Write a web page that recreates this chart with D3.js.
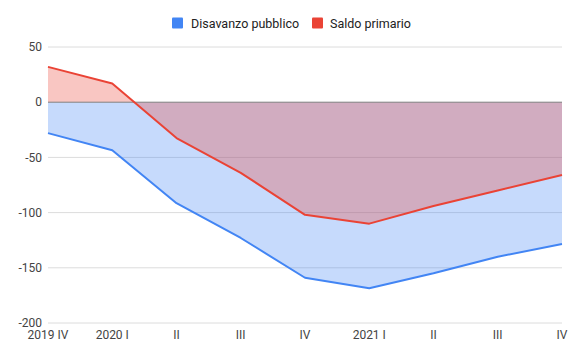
<!DOCTYPE html>
<html><head><meta charset="utf-8">
<script src="https://cdn.jsdelivr.net/npm/d3@7"></script>
<style>body{margin:0;background:#fff;}svg{display:block;font-family:Roboto,Arial,sans-serif;}</style>
</head><body>
<script>
const categories = ["2019 IV","2020 I","II","III","IV","2021 I","II","III","IV"];
const disavanzo = [-28,-43.5,-91.5,-123,-159,-168.5,-155,-140,-128.5];
const saldo = [32,17,-32.5,-64,-102,-110,-94,-80,-66];
const seriesNames = ["Disavanzo pubblico","Saldo primario"];
const colors = ["#4285f4","#ea4335"];
const yTicks = [50,0,-50,-100,-150,-200];

const W=580,H=359;
const svg=d3.select("body").append("svg").attr("width",W).attr("height",H);
const x=d3.scalePoint().domain(d3.range(categories.length)).range([48,562]);
const y=d3.scaleLinear().domain([-200,50]).range([323,47]);

svg.append("g").selectAll("line").data(yTicks.filter(d=>d!==0)).join("line")
 .attr("x1",48).attr("x2",562).attr("y1",d=>y(d)).attr("y2",d=>y(d))
 .attr("stroke","#dcdcdc").attr("stroke-width",1);

const data=[disavanzo,saldo];
data.forEach((s,i)=>{
  svg.append("path").datum(s)
   .attr("d",d3.area().x((d,j)=>x(j)).y0(y(0)).y1(d=>y(d)))
   .attr("fill",colors[i]).attr("fill-opacity",0.3);
});
svg.append("line").attr("x1",48).attr("x2",562).attr("y1",y(0)).attr("y2",y(0))
 .attr("stroke","#808080").attr("stroke-width",1);
data.forEach((s,i)=>{
  svg.append("path").datum(s)
   .attr("d",d3.line().x((d,j)=>x(j)).y(d=>y(d)))
   .attr("fill","none").attr("stroke",colors[i]).attr("stroke-width",2).attr("stroke-linejoin","round");
});

svg.append("g").selectAll("text").data(yTicks).join("text")
 .attr("x",42).attr("y",d=>y(d)).attr("dy","0.35em").attr("text-anchor","end")
 .attr("font-size",12).attr("fill","#444").text(d=>d);
svg.append("g").selectAll("text").data(categories).join("text")
 .attr("x",(d,i)=>x(i)).attr("y",339).attr("text-anchor","middle")
 .attr("font-size",12).attr("fill","#444").text(d=>d);

const leg=[{x:172,tx:191},{x:312,tx:330}];
seriesNames.forEach((n,i)=>{
  svg.append("rect").attr("x",leg[i].x).attr("y",17.5).attr("width",11).attr("height",11).attr("rx",1).attr("fill",colors[i]);
  svg.append("text").attr("x",leg[i].tx).attr("y",27.5).attr("font-size",12.5).attr("fill","#222").text(n);
});
</script>
</body></html>
